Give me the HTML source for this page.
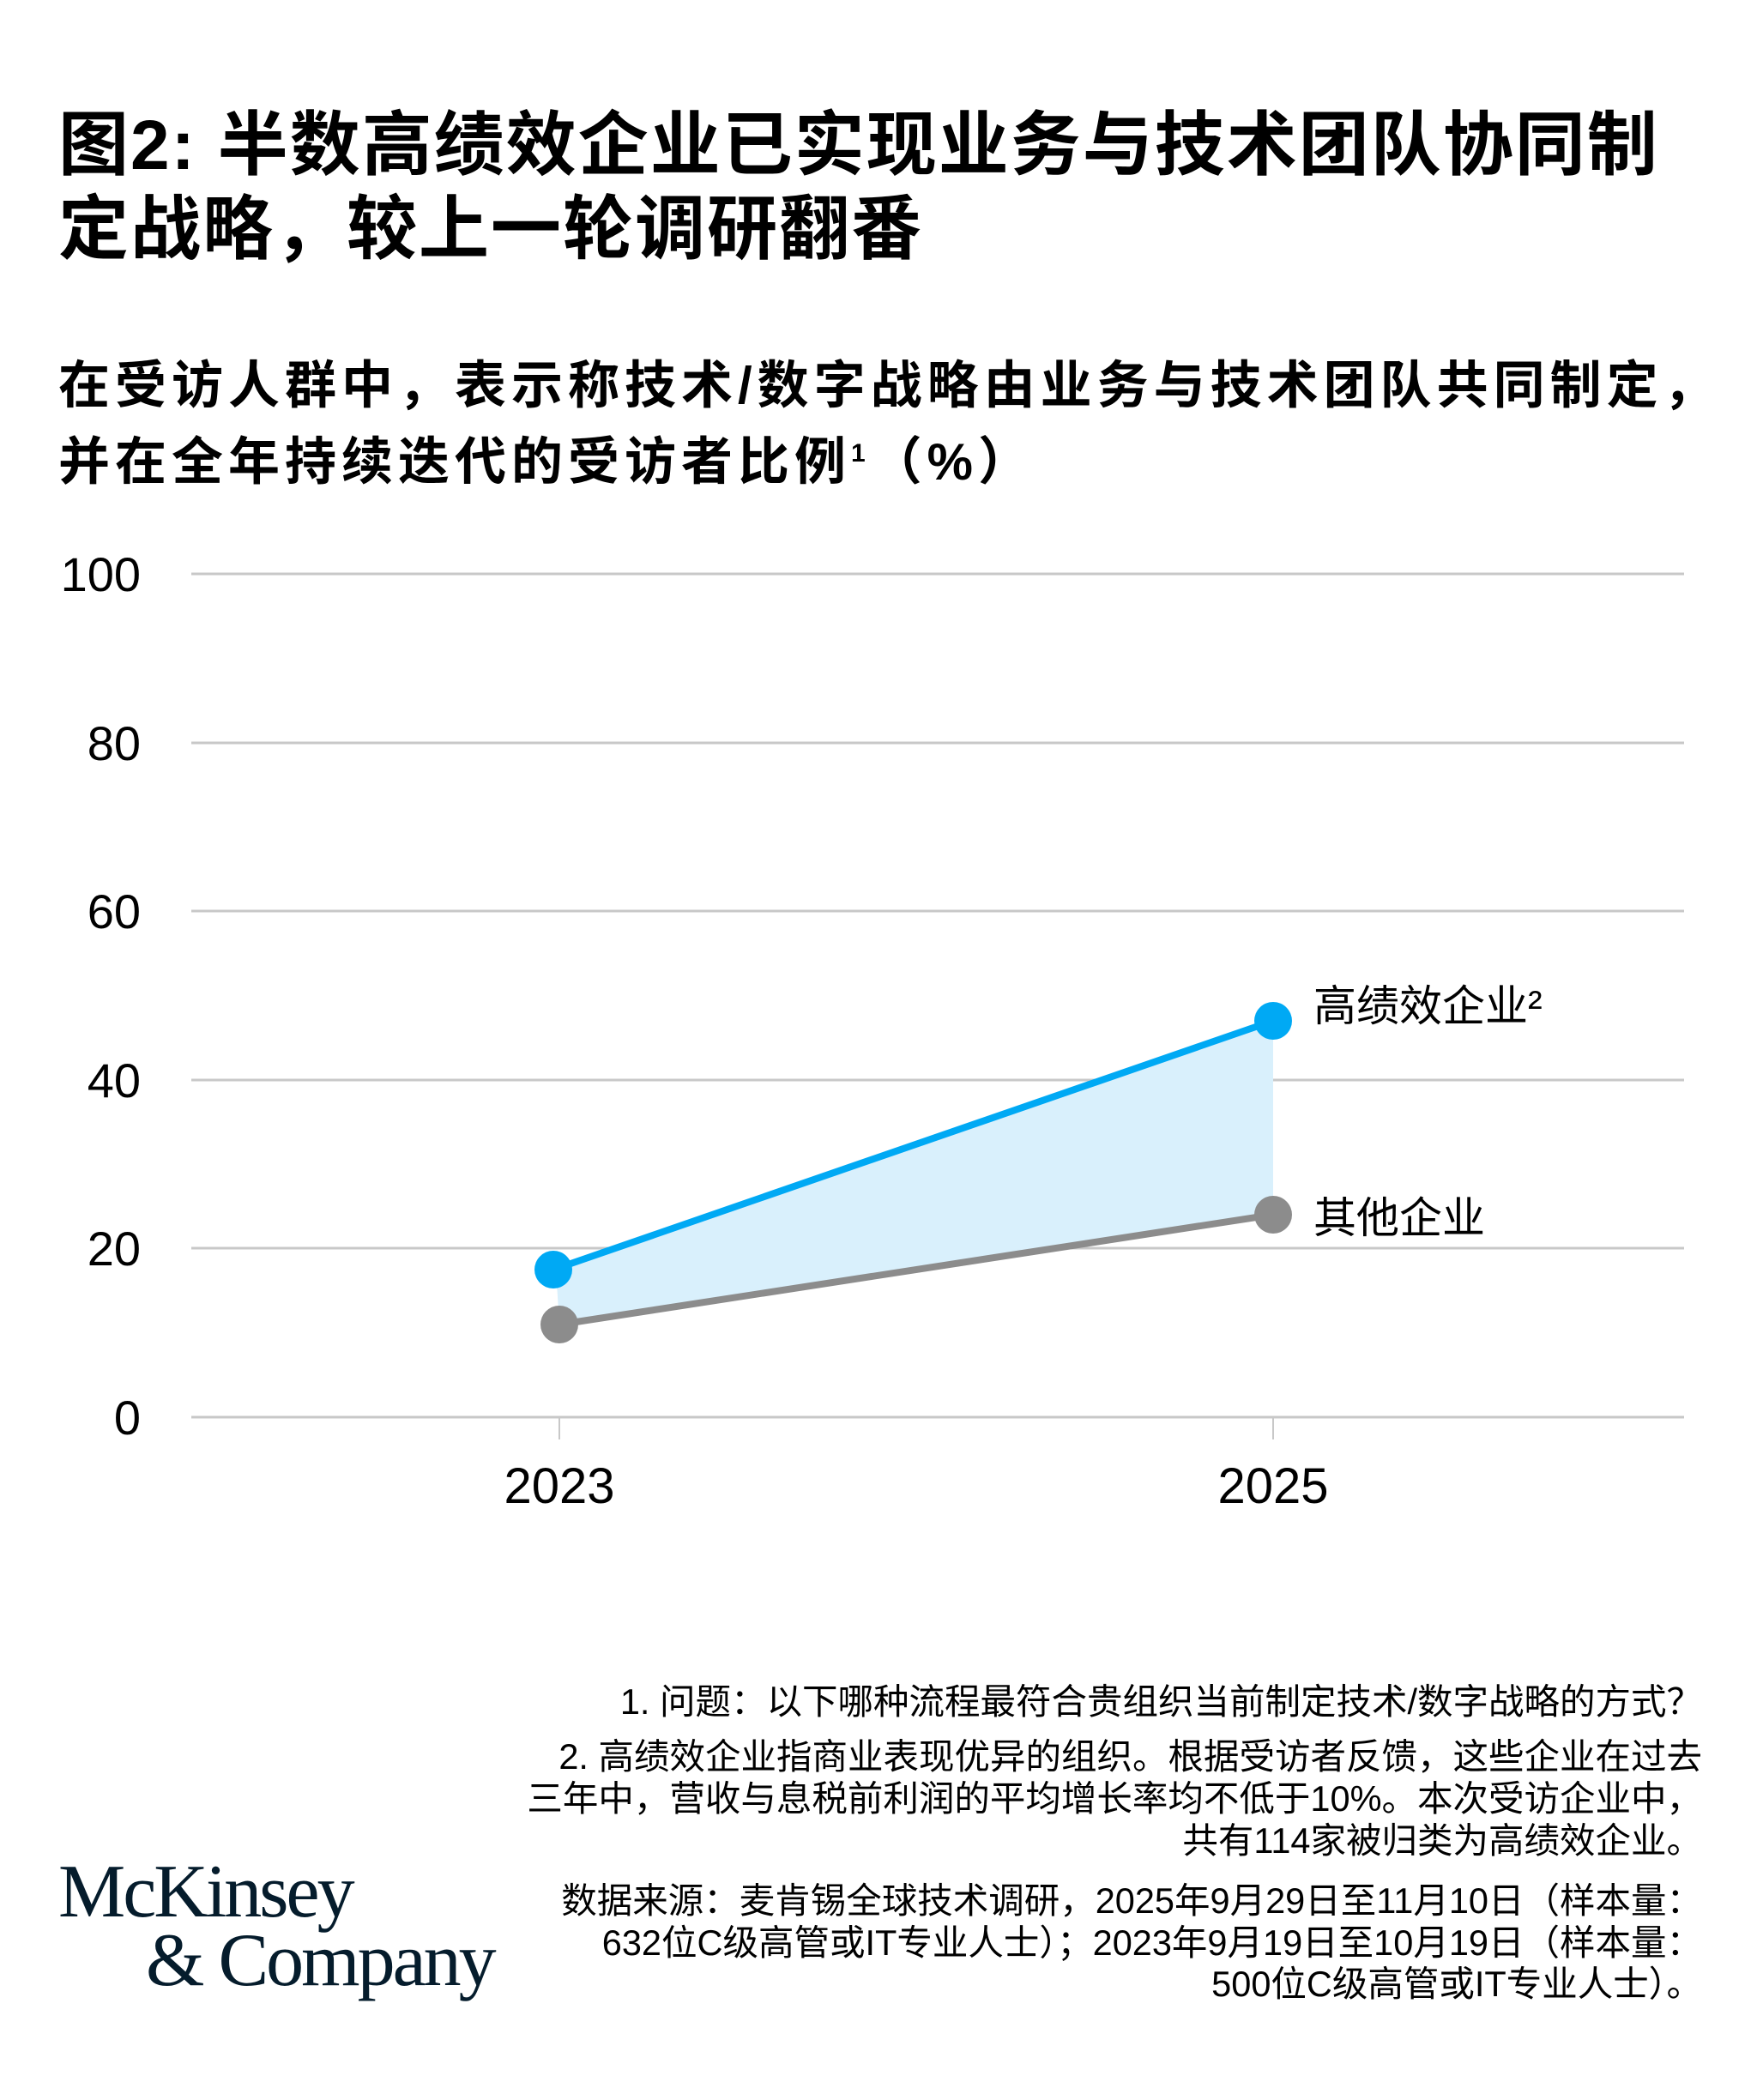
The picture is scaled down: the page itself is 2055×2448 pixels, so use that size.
<!DOCTYPE html>
<html><head><meta charset="utf-8"><style>
body{margin:0;width:2055px;height:2448px;background:#fff;overflow:hidden;font-family:"Liberation Sans","Noto Sans CJK SC",sans-serif;color:#000}
.t{position:absolute;white-space:nowrap}
</style></head><body>
<div class="t" style="left:68px;top:121px;font-size:82px;font-weight:bold;line-height:98px;letter-spacing:2px">图2: 半数高绩效企业已实现业务与技术团队协同制<br>定战略，较上一轮调研翻番</div>
<div class="t" style="left:68px;top:410px;font-size:60px;font-weight:bold;line-height:79px;letter-spacing:6px">在受访人群中，表示称技术/数字战略由业务与技术团队共同制定，<br>并在全年持续迭代的受访者比例<sup style="font-size:30px">1</sup>（%）</div>
<svg width="2055" height="2448" style="position:absolute;left:0;top:0" font-family="Liberation Sans, Noto Sans CJK SC, sans-serif">
<g stroke="#c8c8c8" stroke-width="3">
<line x1="223" x2="1963" y1="669" y2="669"/><line x1="223" x2="1963" y1="866" y2="866"/><line x1="223" x2="1963" y1="1062" y2="1062"/><line x1="223" x2="1963" y1="1259" y2="1259"/><line x1="223" x2="1963" y1="1455" y2="1455"/><line x1="223" x2="1963" y1="1652" y2="1652"/>
<line x1="652" x2="652" y1="1652" y2="1678" stroke-width="2"/><line x1="1484" x2="1484" y1="1652" y2="1678" stroke-width="2"/>
</g>
<g font-size="56" text-anchor="end" fill="#000">
<text x="164" y="689">100</text><text x="164" y="886">80</text><text x="164" y="1082">60</text><text x="164" y="1279">40</text><text x="164" y="1475">20</text><text x="164" y="1672">0</text>
</g>
<g font-size="58" text-anchor="middle"><text x="652" y="1752">2023</text><text x="1484" y="1752">2025</text></g>
<polygon points="648,1480 1484,1190 1484,1416 652,1544" fill="#d9f0fc"/>
<line x1="652" y1="1544" x2="1484" y2="1416" stroke="#8c8c8c" stroke-width="8"/>
<line x1="645" y1="1480" x2="1484" y2="1190" stroke="#00a9f4" stroke-width="8"/>
<circle cx="652" cy="1544" r="22" fill="#8c8c8c"/><circle cx="1484" cy="1416" r="22" fill="#8c8c8c"/>
<circle cx="645" cy="1480" r="22" fill="#00a9f4"/><circle cx="1484" cy="1190" r="22" fill="#00a9f4"/>
<text x="1531" y="1190" font-size="50">高绩效企业²</text>
<text x="1531" y="1437" font-size="50">其他企业</text>
</svg>
<div class="t" style="right:71px;top:1960px;font-size:41.5px;line-height:48px;text-align:right">1. 问题：以下哪种流程最符合贵组织当前制定技术/数字战略的方式？</div>
<div class="t" style="right:71px;top:2023px;font-size:41.5px;line-height:49px;text-align:right">2. 高绩效企业指商业表现优异的组织。根据受访者反馈，这些企业在过去<br>三年中，营收与息税前利润的平均增长率均不低于10%。本次受访企业中，<br>共有114家被归类为高绩效企业。</div>
<div class="t" style="right:71px;top:2192px;font-size:41.5px;line-height:48.5px;text-align:right">数据来源：麦肯锡全球技术调研，2025年9月29日至11月10日（样本量：<br>632位C级高管或IT专业人士）；2023年9月19日至10月19日（样本量：<br>500位C级高管或IT专业人士）。</div>
<div class="t" style="left:68px;top:2166px;font-family:'Liberation Serif',serif;font-size:88px;line-height:80px;color:#051c2c;letter-spacing:-3px">McKinsey<br><span style="margin-left:102px">&amp; Company</span></div>
</body></html>
